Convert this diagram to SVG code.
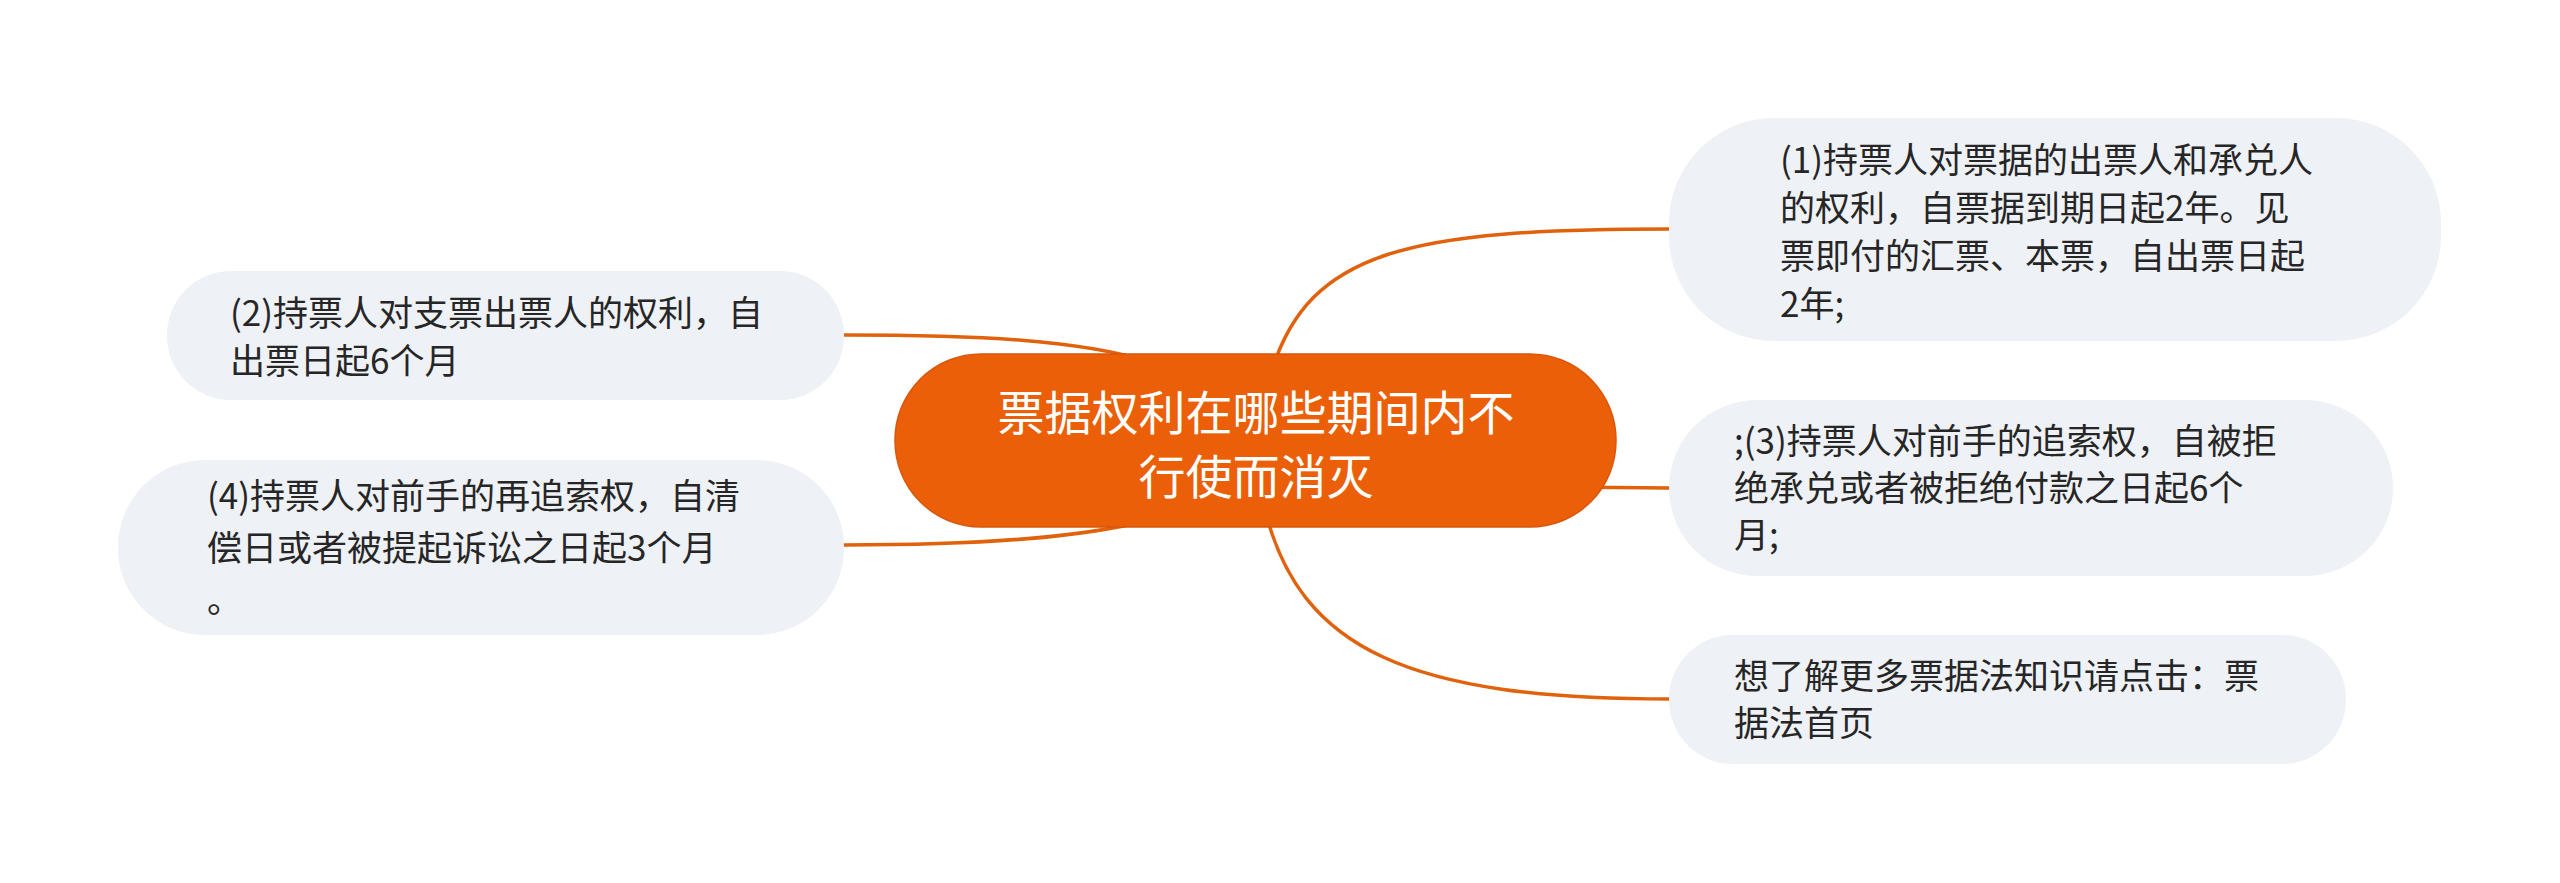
<svg xmlns="http://www.w3.org/2000/svg" width="2560" height="883" viewBox="0 0 2560 883">
<style>
.bg{fill:#ffffff}
.conn{fill:none;stroke:#E0620D;stroke-width:3.5;stroke-linecap:round}
.main{fill:#EA5F08;stroke:#D9560A;stroke-width:1.5}
.sub{fill:#EEF1F5}
.mt{font-family:"Noto Sans CJK SC","Noto Sans",sans-serif;font-size:47px;fill:#ffffff;text-anchor:middle}
.st{font-family:"Noto Sans CJK SC","Noto Sans",sans-serif;font-size:35px;fill:#262626}
</style>
<rect class="bg" x="0" y="0" width="2560" height="883"/>
<g id="connectors">
<path class="conn" d="M1272,370 C1310,250 1410,229 1669,229"/>
<path class="conn" d="M1560,487 L1669,488"/>
<path class="conn" d="M1265,510 C1300,650 1410,699 1669,699"/>
<path class="conn" d="M844,335 C980,335 1080,340 1150,362"/>
<path class="conn" d="M844,545 C980,545 1080,538 1150,520"/>
</g>
<g id="central">
<rect class="main" x="895" y="354" width="721" height="173" rx="86" ry="86"/>
<text class="mt"><tspan x="1256" y="430">票据权利在哪些期间内不</tspan><tspan x="1256" y="494">行使而消灭</tspan></text>
</g>
<g id="node1">
<rect class="sub" x="1669" y="118" width="772" height="223" rx="105" ry="105"/>
<text class="st" x="1780" y="173">(1)持票人对票据的出票人和承兑人</text>
<text class="st" x="1780" y="221">的权利，自票据到期日起2年。见</text>
<text class="st" x="1780" y="269">票即付的汇票、本票，自出票日起</text>
<text class="st" x="1780" y="317">2年;</text>
</g>
<g id="node2">
<rect class="sub" x="167" y="271" width="677" height="129" rx="64" ry="64"/>
<text class="st" x="230" y="326">(2)持票人对支票出票人的权利，自</text>
<text class="st" x="230" y="374">出票日起6个月</text>
</g>
<g id="node3">
<rect class="sub" x="1669" y="400" width="724" height="176" rx="88" ry="88"/>
<text class="st" x="1734" y="454">;(3)持票人对前手的追索权，自被拒</text>
<text class="st" x="1734" y="501">绝承兑或者被拒绝付款之日起6个</text>
<text class="st" x="1734" y="548">月;</text>
</g>
<g id="node4">
<rect class="sub" x="118" y="460" width="726" height="175" rx="87" ry="87"/>
<text class="st" x="207" y="509">(4)持票人对前手的再追索权，自清</text>
<text class="st" x="207" y="561">偿日或者被提起诉讼之日起3个月</text>
<text class="st" x="207" y="613">。</text>
</g>
<g id="node5">
<rect class="sub" x="1669" y="635" width="677" height="129" rx="64" ry="64"/>
<text class="st" x="1734" y="689">想了解更多票据法知识请点击：票</text>
<text class="st" x="1734" y="736">据法首页</text>
</g>
</svg>
